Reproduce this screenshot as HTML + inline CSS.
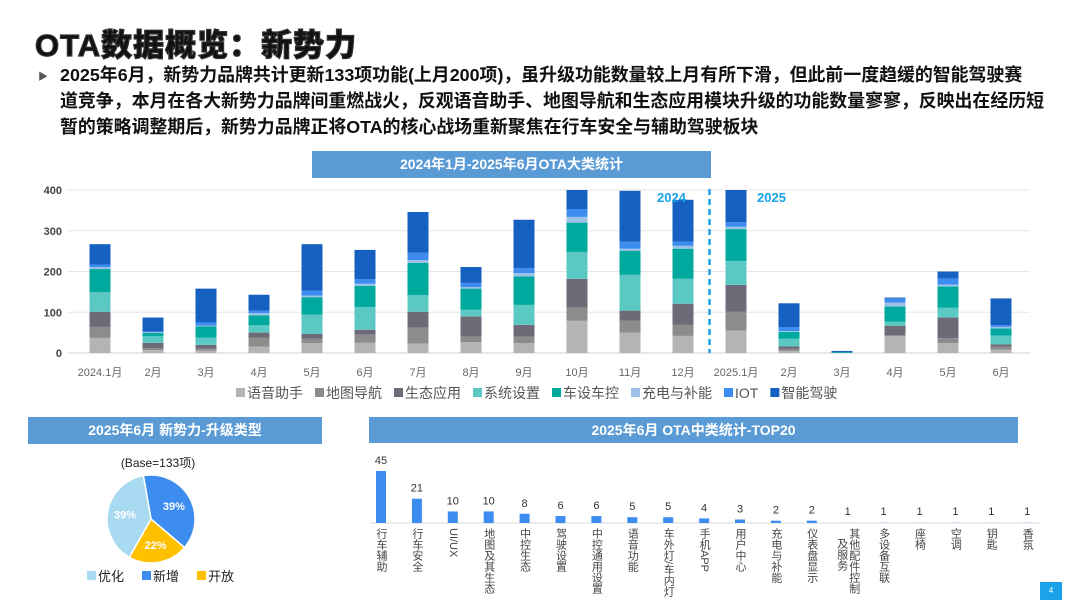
<!DOCTYPE html>
<html><head><meta charset="utf-8">
<style>
body{margin:0;width:1067px;height:600px;overflow:hidden;background:#fff;font-family:"Liberation Sans","Noto Sans CJK SC",sans-serif;position:relative}
.t{position:absolute;white-space:nowrap}
.box{position:absolute;background:#5b9bd5;color:#fff;font-weight:bold;font-size:14px;text-align:center;}
</style></head><body>
<div class="t" style="left:35px;top:20px;font-size:31px;font-weight:900;color:#111;letter-spacing:1px;-webkit-text-stroke:1.2px #333">OTA数据概览：新势力</div>
<div class="t" style="left:38px;top:68px;font-size:10px;color:#555">▶</div>
<div class="t" style="left:60px;top:62px;font-size:17.9px;font-weight:bold;line-height:26px;color:#111">2025年6月，新势力品牌共计更新133项功能(上月200项)，虽升级功能数量较上月有所下滑，但此前一度趋缓的智能驾驶赛<br>道竞争，本月在各大新势力品牌间重燃战火，反观语音助手、地图导航和生态应用模块升级的功能数量寥寥，反映出在经历短<br>暂的策略调整期后，新势力品牌正将OTA的核心战场重新聚焦在行车安全与辅助驾驶板块</div>
<div class="box" style="left:312px;top:151px;width:399px;height:27px;line-height:27px">2024年1月-2025年6月OTA大类统计</div>
<div class="box" style="left:28px;top:417px;width:294px;height:27px;line-height:27px">2025年6月 新势力-升级类型</div>
<div class="box" style="left:369px;top:417px;width:649px;height:26px;line-height:26px">2025年6月 OTA中类统计-TOP20</div>
<div class="t" style="left:1040px;top:582px;width:22px;height:18px;background:#1aa3e8;color:#fff;font-size:8px;text-align:center;line-height:18px">4</div>
<svg id="svg" width="1067" height="600" style="position:absolute;left:0;top:0"></svg>
<script>
const months=["2024.1月","2月","3月","4月","5月","6月","7月","8月","9月","10月","11月","12月","2025.1月","2月","3月","4月","5月","6月"];
const seriesNames=["语音助手","地图导航","生态应用","系统设置","车设车控","充电与补能","IOT","智能驾驶"];
const s0=[37,7,6,16,24,25,23,27,24,79,50,42,55,5,0,41,24,8];
const s1=[27,5,5,22,11,20,39,13,16,32,29,27,46,5,0,3,12,8];
const s2=[37,13,9,12,12,12,39,50,29,71,25,52,66,6,0,23,51,5];
const s3=[48,16,18,18,47,56,41,16,49,66,88,61,59,19,0,10,24,22];
const s4=[57,8,27,24,43,52,79,52,70,72,59,74,78,17,2,37,52,17];
const s5=[5,2,2,6,4,5,7,4,8,14,5,7,6,2,0,10,5,4];
const s6=[6,2,8,6,12,11,18,10,12,19,17,10,11,9,0,10,15,4];
const s7=[50,34,83,39,114,72,100,39,119,47,125,103,79,59,3,2,17,66];
const yTicks=[0,100,200,300,400];
const colors=["#b4b4b4","#8c8c8c","#6e6a78","#5cc8c4","#00a99d","#9bc2e6","#3d8cf0","#1560c0"];
const pieLabels=["新增","开放","优化"];
const pieValues=[39,22,39];
const pieColors=["#3d8cf0","#ffc000","#a8daf2"];
const cats=["行车辅助","行车安全","UI/UX","地图及其生态","中控生态","驾驶设置","中控通用设置","语音功能","车外灯/车内灯","手机APP","用户中心","充电与补能","仪表盘显示","其他配件控制|及服务","多设备互联","座椅","空调","钥匙","香氛"];
const catValues=[45,21,10,10,8,6,6,5,5,4,3,2,2,1,1,1,1,1,1];

const svg=document.getElementById('svg');const NS="http://www.w3.org/2000/svg";
function mk(t,a,p){const e=document.createElementNS(NS,t);for(const k in a)e.setAttribute(k,a[k]);(p||svg).appendChild(e);return e;}
const y0=353,yTop=190,x0=100,step=53,bw=21;
const Y=v=>y0-(v/400)*(y0-yTop), X=i=>x0+i*step;
const all=[s0,s1,s2,s3,s4,s5,s6,s7];
yTicks.forEach(t=>{
 const l=mk('line',{x1:68,x2:1030,y1:Y(t),y2:Y(t),stroke:t?'#e6e6e6':'#d0d0d0'});
 
 const tx=mk('text',{x:62,y:Y(t)+4,'text-anchor':'end','font-size':11,'font-weight':'bold',fill:'#444'});tx.textContent=t;
 
});
mk('defs',{}).innerHTML='<clipPath id="cp"><rect x="60" y="'+yTop+'" width="980" height="'+(y0-yTop)+'"/></clipPath>';
const g=mk('g',{'clip-path':'url(#cp)'});
months.forEach((m,i)=>{
 let acc=0;
 all.forEach((s,k)=>{const v=s[i];if(v<=0)return;
  const r=mk('rect',{x:X(i)-bw/2,y:Y(acc+v),width:bw,height:Y(acc)-Y(acc+v),fill:colors[k]},g);
  acc+=v;});
 const tx=mk('text',{x:X(i),y:376,'text-anchor':'middle','font-size':11,fill:'#666'});tx.textContent=m;
 
});
const dl=mk('line',{x1:(X(11)+X(12))/2,x2:(X(11)+X(12))/2,y1:189,y2:353,stroke:'#1aa3e8','stroke-width':2.5,'stroke-dasharray':'6,4'});

[["2024",657],["2025",757]].forEach(([t,x])=>{const e=mk('text',{x:x,y:202,'font-size':13,'font-weight':'bold',fill:'#1aa3e8'});e.textContent=t;
 });
let lx=236;
seriesNames.forEach((n,k)=>{
 const r=mk('rect',{x:lx,y:388,width:9,height:9,fill:colors[k]});
 
 const t=mk('text',{x:lx+11,y:398,'font-size':14,fill:'#555'});t.textContent=n;
 
 lx+=11+t.getComputedTextLength()+12;
});
const cx=151,cy=519,R=44;let ang=-100;const tot=pieValues.reduce((a,b)=>a+b,0);
pieValues.forEach((v,k)=>{
 const a1=ang*Math.PI/180,a2=(ang+v/tot*360)*Math.PI/180;
 const large=v/tot>0.5?1:0;
 const p=mk('path',{d:`M${cx},${cy} L${cx+R*Math.cos(a1)},${cy+R*Math.sin(a1)} A${R},${R} 0 ${large} 1 ${cx+R*Math.cos(a2)},${cy+R*Math.sin(a2)} Z`,fill:pieColors[k],stroke:'#fff','stroke-width':1.5});
 
 const m=(a1+a2)/2;const t=mk('text',{x:cx+R*0.6*Math.cos(m),y:cy+R*0.6*Math.sin(m)+4,'text-anchor':'middle','font-size':11,'font-weight':'bold',fill:'#fff'});
 t.textContent=v+'%';
 ang+=v/tot*360;
});
const bt=mk('text',{x:158,y:467,'text-anchor':'middle','font-size':12,fill:'#222'});bt.textContent='(Base=133项)';

let px=87;[[2,"优化"],[0,"新增"],[1,"开放"]].forEach(([k,n])=>{
 const r=mk('rect',{x:px,y:571,width:9,height:9,fill:pieColors[k]});
 
 const t=mk('text',{x:px+11,y:581,'font-size':13,fill:'#222'});t.textContent=n;
 px+=55;});
const b0=523,bx0=381,bstep=35.9,bk=52/45;
const al=mk('line',{x1:370,x2:1040,y1:b0,y2:b0,stroke:'#d9d9d9'});
cats.forEach((c,i)=>{
 const v=catValues[i];const x=bx0+i*bstep;
 const r=mk('rect',{x:x-5,y:b0-v*bk,width:10,height:v*bk,fill:v>1?'#3d8cf0':'#dbe6f5'});
 
 const t=mk('text',{x:x,y:b0-v*bk-7,'text-anchor':'middle','font-size':11,fill:'#333'});t.textContent=v;
 
 c.split('|').forEach((part,j)=>{
  const lt=mk('text',{x:c.includes('|')?(j===0?x+6:x-6):x,y:j===1?538:528,'font-size':11,fill:'#444','writing-mode':'tb','glyph-orientation-vertical':0});
  lt.textContent=part;
 });
});
</script>
</body></html>
